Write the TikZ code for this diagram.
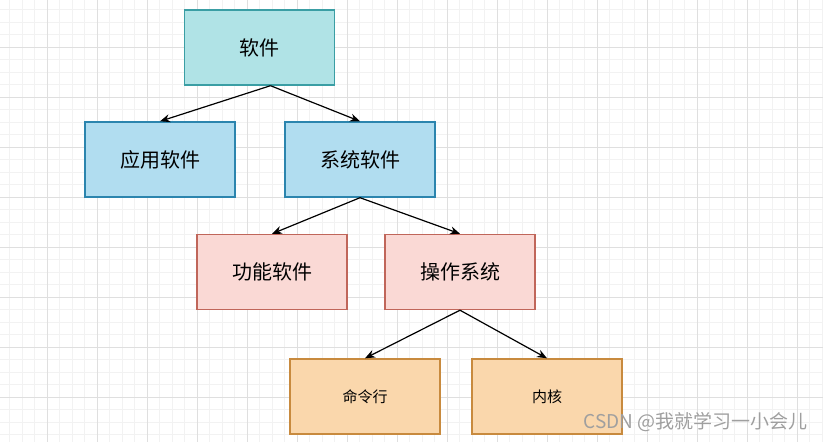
\documentclass[tikz,border=0pt]{standalone}
\usepackage{fontspec}
\setmainfont{Noto Sans CJK SC}
\usetikzlibrary{arrows.meta}

\definecolor{tealfill}{HTML}{B0E3E6}
\definecolor{tealline}{HTML}{3A9EA4}
\definecolor{bluefill}{HTML}{B1DDF0}
\definecolor{blueline}{HTML}{2C85AE}
\definecolor{redfill}{HTML}{FAD9D5}
\definecolor{redline}{HTML}{C0665A}
\definecolor{orangefill}{HTML}{FAD7AC}
\definecolor{orangeline}{HTML}{C88A3E}

\begin{document}
\begin{tikzpicture}[x=1pt, y=-1pt,
boxnode/.style={rectangle, line width=1.4pt, minimum width=150pt, minimum height=75pt, inner sep=0pt, font=\fontsize{20}{24}\selectfont},
tealnode/.style={boxnode, draw=tealline, fill=tealfill},
bluenode/.style={boxnode, draw=blueline, fill=bluefill},
rednode/.style={boxnode, draw=redline, fill=redfill},
orangenode/.style={boxnode, draw=orangeline, fill=orangefill, font=\fontsize{15}{18}\selectfont},
conn/.style={line width=1.2pt, -{Stealth[length=10pt, width=8pt]}},
minorgrid/.style={draw=gray!10, line width=0.8pt},
majorgrid/.style={draw=gray!25, line width=0.9pt}
]
        \useasboundingbox (0, 0) rectangle (823, 442);
        \fill[white] (0, 0) rectangle (823, 442);

        % grid
        \foreach \g in {9.5,22,...,823} {
            \draw[minorgrid] (\g, 0) -- (\g, 442);
            \draw[minorgrid] (0, \g) -- (823, \g);
        }
        \foreach \g in {47,97,...,823} {
            \draw[majorgrid] (\g, 0) -- (\g, 442);
            \draw[majorgrid] (0, \g) -- (823, \g);
        }

        \node [tealnode] (ruanjian) at (259.5, 47.5) {软件};

        \node [bluenode] (yingyong) at (160, 159.5) {应用软件};
        \node [bluenode] (xitong) at (360, 159.5) {系统软件};

        \node [rednode] (gongneng) at (272, 272) {功能软件};
        \node [rednode] (caozuo) at (460, 272) {操作系统};

        \node [orangenode] (mingling) at (365, 396.5) {命令行};
        \node [orangenode] (neihe) at (547, 396.5) {内核};

        \draw[conn] ([xshift=11pt]ruanjian.south) -- (yingyong.north);
        \draw[conn] ([xshift=11pt]ruanjian.south) -- (xitong.north);
        \draw[conn] (xitong.south) -- (gongneng.north);
        \draw[conn] (xitong.south) -- (caozuo.north);
        \draw[conn] (caozuo.south) -- (mingling.north);
        \draw[conn] (caozuo.south) -- (neihe.north);

        \node [anchor=east, text=gray!75, font=\fontsize{19}{22}\selectfont, inner sep=0pt] (mark) at (808, 422) {CSDN @我就学习一小会儿};

 \end{tikzpicture}
\end{document}
